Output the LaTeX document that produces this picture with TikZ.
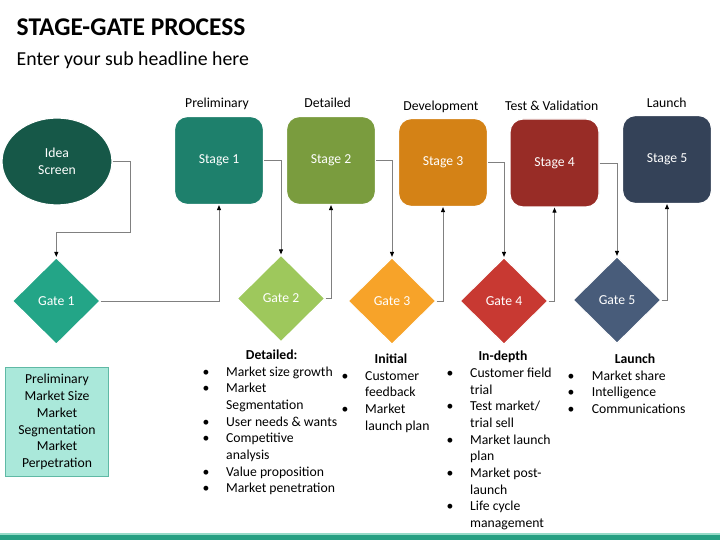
\documentclass[tikz,border=0pt]{standalone}
\usepackage{fontspec}
\setmainfont{Carlito}
\usetikzlibrary{shapes.geometric,arrows.meta,positioning}

\begin{document}
\begin{tikzpicture}[x=1pt,y=-1pt,
    stagebox/.style={rounded corners=13pt, minimum width=89pt, minimum height=88pt,
        draw=white, line width=1.2pt, text=white, font=\fontsize{13.7}{16.7}\selectfont},
    gatebox/.style={diamond, inner sep=0pt, minimum width=88pt, minimum height=87pt,
        draw=white, line width=1.2pt, text=white, font=\fontsize{13.7}{16.7}\selectfont},
    link/.style={draw=linkgray, line width=0.9pt, -{Triangle[length=5pt,width=4pt,color=black]}},
    toplabel/.style={anchor=base, inner sep=0pt, font=\fontsize{13.7}{16.7}\selectfont},
    head/.style={anchor=base, inner sep=0pt, font=\fontsize{13.7}{16.7}\selectfont\bfseries},
    blist/.style={anchor=base west, inner sep=0pt, font=\fontsize{13.7}{16.7}\selectfont}]

    % Define colors
    \definecolor{linkgray}{RGB}{128, 128, 128}
    \definecolor{ideagreen}{RGB}{22, 88, 72}
    \definecolor{stage1}{RGB}{30, 128, 108}
    \definecolor{stage2}{RGB}{122, 156, 62}
    \definecolor{stage3}{RGB}{212, 130, 22}
    \definecolor{stage4}{RGB}{152, 44, 38}
    \definecolor{stage5}{RGB}{52, 66, 88}
    \definecolor{gate1}{RGB}{35, 165, 135}
    \definecolor{gate2}{RGB}{158, 200, 92}
    \definecolor{gate3}{RGB}{247, 163, 41}
    \definecolor{gate4}{RGB}{200, 57, 50}
    \definecolor{gate5}{RGB}{72, 92, 122}
    \definecolor{notefill}{RGB}{170, 232, 218}
    \definecolor{noteedge}{RGB}{95, 185, 165}
    \definecolor{bar}{RGB}{38, 160, 130}
    \definecolor{barlight}{RGB}{150, 220, 200}

    \useasboundingbox (0,0) rectangle (720,540);

    % Title and sub headline
    \node[anchor=base west, inner sep=0pt, font=\fontsize{25.5}{30}\selectfont\bfseries] (title) at (16.5,36) {STAGE-GATE PROCESS};
    \node[anchor=base west, inner sep=0pt, font=\fontsize{19.8}{24}\selectfont] (subtitle) at (16.5,65.7) {Enter your sub headline here};

    % Idea screen
    \node[ellipse, minimum width=110pt, minimum height=87pt, fill=ideagreen, draw=white,
        line width=1.2pt, text=white, align=center, font=\fontsize{13.7}{16.7}\selectfont] (idea) at (57,161.5) {Idea\\Screen};

    % Stages with labels on top
    \foreach \n/\x/\y in {1/219/160.5, 2/331/160.5, 3/443/162.5, 4/554.5/163, 5/667/159.5} {
        \node[stagebox, fill=stage\n] (stage\n) at (\x,\y) {Stage \n};
    }
    \node[toplabel] (lab1) at (217,108) {Preliminary};
    \node[toplabel] (lab2) at (327.7,108) {Detailed};
    \node[toplabel] (lab3) at (441,110.7) {Development};
    \node[toplabel] (lab4) at (551.7,110.7) {Test \& Validation};
    \node[toplabel] (lab5) at (666.7,107.3) {Launch};

    % Gates
    \foreach \n/\x/\y in {1/56.3/301, 2/281/298.5, 3/392/301, 4/504/301, 5/617/300} {
        \node[gatebox, fill=gate\n] (gate\n) at (\x,\y) {Gate \n};
    }

    % Connectors
    \coordinate (bend) at (130,232);
    \draw[link] (idea.east) -| (bend) -| (gate1.north);
    \foreach \a/\b in {1/2, 2/3, 3/4, 4/5} {
        \draw[link] (stage\a.east) -| (gate\b.north);
    }
    \foreach \n in {1,...,5} {
        \draw[link] (gate\n.east) -| (stage\n.south);
    }

    % Preliminary note
    \node[fill=notefill, draw=noteedge, line width=0.8pt, minimum width=102.6pt, minimum height=109.4pt,
        inner sep=0pt, align=center, font=\fontsize{13.7}{16.7}\selectfont] (note) at (57,422)
        {Preliminary\\Market Size\\Market\\Segmentation\\Market\\Perpetration};

    % Detailed list
    \node[head] (dethead) at (271.7,359) {Detailed:};
    \node[blist] (detlist) at (202.3,376) {\begin{tabular}[t]{@{}p{23.7pt}@{}l@{}}
        \textbullet & Market size growth\\
        \textbullet & Market\\
                    & Segmentation\\
        \textbullet & User needs \& wants\\
        \textbullet & Competitive\\
                    & analysis\\
        \textbullet & Value proposition\\
        \textbullet & Market penetration
    \end{tabular}};

    % Initial list
    \node[head] (inihead) at (391,363.3) {Initial};
    \node[blist] (inilist) at (341.5,380) {\begin{tabular}[t]{@{}p{23.5pt}@{}l@{}}
        \textbullet & Customer\\
                    & feedback\\
        \textbullet & Market\\
                    & launch plan
    \end{tabular}};

    % In-depth list
    \node[head] (dephead) at (503,360) {In-depth};
    \node[blist] (deplist) at (446.5,377.3) {\begin{tabular}[t]{@{}p{23.5pt}@{}l@{}}
        \textbullet & Customer field\\
                    & trial\\
        \textbullet & Test market/\\
                    & trial sell\\
        \textbullet & Market launch\\
                    & plan\\
        \textbullet & Market post-\\
                    & launch\\
        \textbullet & Life cycle\\
                    & management
    \end{tabular}};

    % Launch list
    \node[head] (lauhead) at (635,363.3) {Launch};
    \node[blist] (laulist) at (567.5,380) {\begin{tabular}[t]{@{}p{24.2pt}@{}l@{}}
        \textbullet & Market share\\
        \textbullet & Intelligence\\
        \textbullet & Communications
    \end{tabular}};

    % Bottom bar
    \fill[barlight] (0,533) rectangle (720,534.5);
    \fill[bar] (0,534.5) rectangle (720,540);
\end{tikzpicture}
\end{document}
